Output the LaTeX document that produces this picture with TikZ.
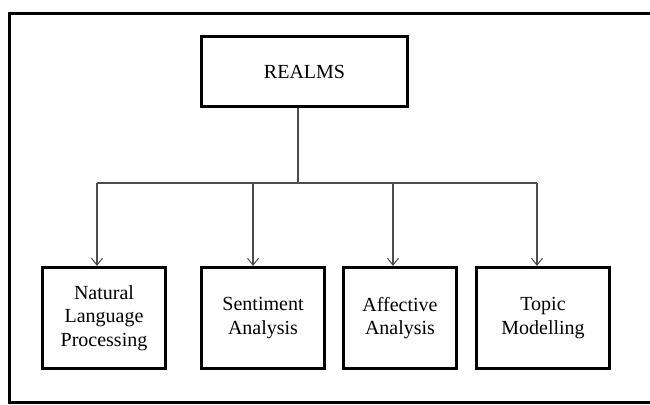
\documentclass[tikz,border=0pt]{standalone}
\usepackage{fontspec}
\setmainfont{Liberation Serif}
\usetikzlibrary{arrows.meta}
\begin{document}
\begin{tikzpicture}[x=1pt,y=-1pt,
  boxnode/.style={draw=black,line width=3pt,align=center,inner sep=0pt,
    font=\fontsize{20}{23.7}\selectfont},
  conn/.style={draw=black!70,line width=1.2pt},
  arr/.style={conn,-{Straight Barb[length=7pt,width=11pt,line width=1pt]}}]
\useasboundingbox (0,0) rectangle (650,404);
\fill[white] (0,0) rectangle (650,404);
\draw[line width=3pt] (660,13.5) -- (9.5,13.5) -- (9.5,402) -- (660,402);
\node[boxnode,minimum width=206pt,minimum height=70pt] (realms) at (304.5,71.5) {REALMS};
\node[boxnode,minimum width=123pt,minimum height=101pt] (nlp) at (104,318) {Natural\\Language\\Processing};
\node[boxnode,minimum width=123pt,minimum height=101pt] (sent) at (263,318) {Sentiment\\Analysis};
\node[boxnode,minimum width=113pt,minimum height=101pt] (aff) at (400,318) {Affective\\Analysis};
\node[boxnode,minimum width=133pt,minimum height=101pt] (topic) at (543,318) {Topic\\Modelling};
\coordinate (j) at (298,183);
\coordinate (a1) at (97,183);
\coordinate (a2) at (253,183);
\coordinate (a3) at (393,183);
\coordinate (a4) at (537,183);
\draw[conn] (realms.south -| j) -- (j);
\draw[conn] (a1) -- (a4);
\draw[arr] (a1) -- (a1 |- nlp.north);
\draw[arr] (a2) -- (a2 |- sent.north);
\draw[arr] (a3) -- (a3 |- aff.north);
\draw[arr] (a4) -- (a4 |- topic.north);
\end{tikzpicture}
\end{document}
